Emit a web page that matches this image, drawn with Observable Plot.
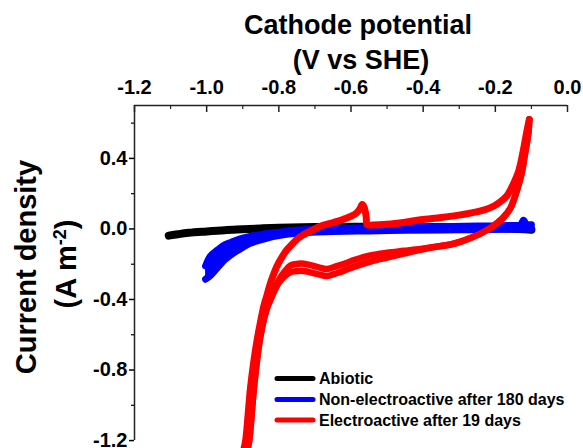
<!DOCTYPE html>
<html><head><meta charset="utf-8">
<script src="https://cdn.jsdelivr.net/npm/d3@7"></script>
<script src="https://cdn.jsdelivr.net/npm/@observablehq/plot@0.6"></script>
<style>body{margin:0;background:#fff;font-family:"Liberation Sans",Arial,sans-serif}</style>
</head><body><div id="chart"></div>
<script>
// Axis ticks
const xTicks = [-1.2, -1.0, -0.8, -0.6, -0.4, -0.2, 0.0];
const xMinor = [-1.1, -0.9, -0.7, -0.5, -0.3, -0.1];
const yTicks = [0.4, 0.0, -0.4, -0.8, -1.2];
const yMinor = [0.6, 0.2, -0.2, -0.6, -1.0];

// Series names
const seriesNames = ["Abiotic", "Non-electroactive after 180 days", "Electroactive after 19 days"];
const seriesColors = ["#000000", "#0000ff", "#ff0000"];

// Abiotic (V vs SHE, A m-2)
const abioticV = [-1.105, -1.08, -1.05, -1.0, -0.95, -0.9, -0.85, -0.8, -0.7, -0.6, -0.5, -0.4, -0.3, -0.2, -0.1];
const abioticI = [-0.038, -0.03, -0.022, -0.014, -0.007, -0.002, 0.003, 0.007, 0.011, 0.012, 0.012, 0.011, 0.009, 0.005, -0.005];

// Non-electroactive: shared potentials, forward (lower) and reverse (upper) scans
const nonV = [-1.003, -0.99, -0.97, -0.95, -0.925, -0.9, -0.88, -0.85, -0.83, -0.8, -0.74, -0.65, -0.55, -0.45, -0.35, -0.25, -0.15, -0.13, -0.122, -0.115, -0.1];
const nonRevI = [-0.21, -0.155, -0.12, -0.09, -0.07, -0.052, -0.042, -0.032, -0.026, -0.018, -0.006, 0.002, 0.006, 0.01, 0.013, 0.016, 0.02, 0.022, 0.05, 0.028, 0.024];
const nonFwdI = [-0.285, -0.265, -0.22, -0.175, -0.135, -0.105, -0.082, -0.062, -0.05, -0.038, -0.022, -0.015, -0.011, -0.008, -0.006, -0.004, -0.002, -0.002, -0.002, -0.001, 0.0];

// Electroactive: positive-going scan (bottom -> -0.1 V)
const redFwdV = [-0.897, -0.892, -0.885, -0.879, -0.87, -0.86, -0.851, -0.842, -0.832, -0.823, -0.815, -0.805, -0.79, -0.777, -0.76, -0.745, -0.731, -0.71, -0.685, -0.66, -0.638, -0.62, -0.601, -0.585, -0.575, -0.569, -0.563, -0.558, -0.555, -0.54, -0.5, -0.45, -0.407, -0.35, -0.306, -0.269, -0.23, -0.204, -0.185, -0.167, -0.15, -0.135, -0.122, -0.112, -0.106];
const redFwdI = [-1.25, -1.2, -1.05, -0.91, -0.76, -0.627, -0.53, -0.44, -0.37, -0.305, -0.26, -0.21, -0.155, -0.117, -0.08, -0.05, -0.032, -0.01, 0.015, 0.03, 0.043, 0.056, 0.071, 0.09, 0.115, 0.138, 0.12, 0.07, 0.024, 0.022, 0.026, 0.038, 0.052, 0.065, 0.077, 0.09, 0.108, 0.13, 0.155, 0.19, 0.255, 0.33, 0.45, 0.56, 0.62];

// Electroactive: negative-going scans (-0.1 V -> bottom), two cycles
const redRevV = [-0.106, -0.108, -0.112, -0.12, -0.126, -0.14, -0.158, -0.18, -0.213, -0.24, -0.269, -0.296, -0.324, -0.361, -0.407, -0.454, -0.5, -0.546, -0.592, -0.615, -0.638, -0.666, -0.694, -0.731, -0.755, -0.768, -0.785, -0.8, -0.818, -0.835, -0.852, -0.869, -0.882, -0.887];
const redRevI1 = [0.62, 0.55, 0.496, 0.4, 0.326, 0.22, 0.119, 0.06, 0.006, -0.025, -0.051, -0.072, -0.088, -0.1, -0.113, -0.124, -0.135, -0.15, -0.177, -0.195, -0.21, -0.227, -0.215, -0.197, -0.2, -0.208, -0.245, -0.29, -0.37, -0.46, -0.62, -0.9, -1.2, -1.25];
const redRevI2 = [0.62, 0.55, 0.496, 0.4, 0.326, 0.22, 0.119, 0.06, 0.006, -0.025, -0.051, -0.072, -0.088, -0.1, -0.118, -0.14, -0.162, -0.185, -0.215, -0.233, -0.25, -0.267, -0.255, -0.238, -0.24, -0.245, -0.27, -0.305, -0.378, -0.465, -0.62, -0.9, -1.2, -1.25];

const rows = (xs, ys) => xs.map((x, i) => ({x, y: ys[i]}));
const nonRows = nonV.map((x, i) => ({x, lo: nonFwdI[i], hi: nonRevI[i]}));

const FONT = '"Liberation Sans", Arial, Helvetica, sans-serif';
const plotH = 448 - 105;

const plot = Plot.plot({
  width: 583, height: 448,
  marginTop: 105, marginLeft: 134, marginRight: 16, marginBottom: 0,
  x: {domain: [-1.2, 0], label: null},
  y: {domain: [-1.245, 0.7], label: null},
  style: {fontFamily: FONT, fontWeight: "bold", color: "black", background: "white", overflow: "visible"},
  marks: [
    Plot.line(rows(abioticV, abioticI), {x: "x", y: "y", stroke: seriesColors[0], strokeWidth: 8, strokeLinecap: "round", curve: "catmull-rom"}),
    Plot.areaY(nonRows, {x: "x", y1: "lo", y2: "hi", fill: seriesColors[1], curve: "catmull-rom"}),
    Plot.line(rows(nonV, nonRevI), {x: "x", y: "y", stroke: seriesColors[1], strokeWidth: 7, strokeLinecap: "round", curve: "catmull-rom"}),
    Plot.line(rows(nonV, nonFwdI), {x: "x", y: "y", stroke: seriesColors[1], strokeWidth: 7, strokeLinecap: "round", curve: "catmull-rom"}),
    Plot.line(rows(redRevV, redRevI2), {x: "x", y: "y", stroke: seriesColors[2], strokeWidth: 6.5, strokeLinecap: "round", curve: "catmull-rom"}),
    Plot.line(rows(redRevV, redRevI1), {x: "x", y: "y", stroke: seriesColors[2], strokeWidth: 6.5, strokeLinecap: "round", curve: "catmull-rom"}),
    Plot.line(rows(redFwdV, redFwdI), {x: "x", y: "y", stroke: seriesColors[2], strokeWidth: 7, strokeLinecap: "round", curve: "catmull-rom"}),
    // axes
    Plot.ruleY([0.7], {stroke: "#222", strokeWidth: 1.5}),
    Plot.ruleX([-1.2], {y1: -1.2, y2: 0.7, stroke: "#222", strokeWidth: 1.5}),
    Plot.ruleX(xTicks, {x: d => d, insetBottom: plotH - 7, stroke: "#222", strokeWidth: 1.5}),
    Plot.ruleX(xMinor, {x: d => d, insetBottom: plotH - 4, stroke: "#222", strokeWidth: 1.2}),
    Plot.axisX(xTicks, {anchor: "top", tickSize: 0, tickPadding: 12, tickFormat: d => d.toFixed(1), fontSize: 20, fontWeight: "bold"}),
    Plot.axisY(yTicks, {anchor: "left", tickSize: 5, tickPadding: 2, tickFormat: d => d.toFixed(1), fontSize: 20, fontWeight: "bold", strokeWidth: 1.5}),
    Plot.axisY(yMinor, {anchor: "left", tickSize: 3, tickFormat: () => "", strokeWidth: 1.2}),
    // title
    Plot.text(["Cathode potential"], {frameAnchor: "top", lineAnchor: "middle", dx: 7, dy: -80, fontSize: 27, fontWeight: "bold"}),
    Plot.text(["(V vs SHE)"], {frameAnchor: "top", lineAnchor: "middle", dx: 10, dy: -45, fontSize: 27, fontWeight: "bold"})
  ]
});

const svg = d3.select(plot);
// Y axis title
svg.append("text")
  .attr("transform", "translate(36,267) rotate(-90)")
  .attr("text-anchor", "middle")
  .style("font-family", FONT).style("font-weight", "bold").style("font-size", "29px")
  .text("Current density");
const yl2 = svg.append("text")
  .attr("transform", "translate(76,264) rotate(-90)")
  .attr("text-anchor", "middle")
  .style("font-family", FONT).style("font-weight", "bold").style("font-size", "29px");
yl2.append("tspan").text("(A m");
yl2.append("tspan").attr("baseline-shift", "super").style("font-size", "18px").text("-2");
yl2.append("tspan").text(")");

// Legend
const legY = [378.5, 399.5, 420];
const leg = svg.append("g");
seriesNames.forEach((name, i) => {
  leg.append("line").attr("x1", 277).attr("x2", 313).attr("y1", legY[i]).attr("y2", legY[i])
    .attr("stroke", seriesColors[i]).attr("stroke-width", 5).attr("stroke-linecap", "round");
  leg.append("text").attr("x", 319).attr("y", legY[i]).attr("dy", "0.35em")
    .attr("text-anchor", "start")
    .style("font-family", FONT).style("font-weight", "bold").style("font-size", "16px")
    .text(name);
});

document.getElementById("chart").appendChild(plot);
</script>
</body></html>
